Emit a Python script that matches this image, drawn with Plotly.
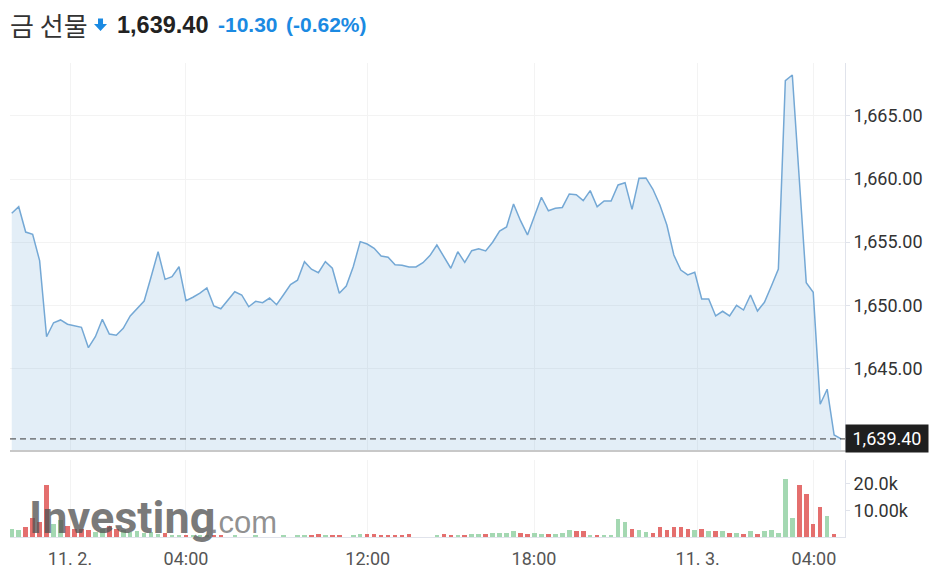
import plotly.graph_objects as go

# ---------------- data ----------------
prices = [
    1657.29, 1657.81, 1655.80, 1655.62, 1653.53, 1647.50, 1648.61, 1648.83, 1648.49, 1648.35,
    1648.25, 1646.63, 1647.50, 1648.88, 1647.72, 1647.62, 1648.17, 1649.15, 1649.76, 1650.33,
    1652.26, 1654.24, 1652.05, 1652.26, 1653.05, 1650.36, 1650.63, 1650.95, 1651.37, 1649.94,
    1649.72, 1650.36, 1651.07, 1650.81, 1649.88, 1650.31, 1650.20, 1650.57, 1650.04, 1650.83,
    1651.64, 1651.98, 1653.45, 1652.85, 1652.58, 1653.45, 1652.93, 1650.95, 1651.52, 1653.05,
    1655.04, 1654.85, 1654.51, 1653.90, 1653.80, 1653.21, 1653.16, 1653.03, 1653.03, 1653.37,
    1653.93, 1654.77, 1653.85, 1652.93, 1654.24, 1653.40, 1654.32, 1654.48, 1654.30, 1654.99,
    1655.88, 1656.20, 1658.02, 1656.70, 1655.57, 1657.07, 1658.56, 1657.49, 1657.68, 1657.75,
    1658.82, 1658.76, 1658.29, 1659.08, 1657.81, 1658.26, 1658.26, 1659.53, 1659.71, 1657.60,
    1660.06, 1660.09, 1659.19, 1657.94, 1656.36, 1653.98, 1652.79, 1652.40, 1652.61, 1650.49,
    1650.49, 1649.15, 1649.52, 1649.15, 1649.99, 1649.62, 1650.81, 1649.54, 1650.23, 1651.52,
    1652.87, 1667.80, 1668.25, 1660.01, 1651.79, 1651.02, 1642.15, 1643.34, 1639.71, 1639.40,
]
volumes = [
    3000, 2625, 3750, 7125, 5500, 19625, 5000, 6500, 4250, 3000,
    3000, 2625, 1750, 3000, 4250, 3000, 2750, 1750, 2125, 1500,
    1750, 1250, 1500, 875, 500, 625, 500, 500, 500, 500,
    500, 0, 500, 0, 0, 375, 0, 0, 0, 500,
    0, 875, 500, 500, 1000, 500, 500, 500, 0, 500,
    1000, 1000, 1000, 500, 500, 500, 500, 1000, 0, 0,
    0, 500, 1000, 500, 500, 500, 1000, 1000, 1000, 1625,
    1625, 1625, 2125, 1625, 1000, 1625, 1000, 1000, 1000, 1500,
    2625, 2125, 2125, 875, 875, 375, 875, 6625, 5500, 3125,
    2625, 2000, 1500, 3750, 2625, 3750, 3750, 3125, 2625, 3125,
    2125, 2125, 2125, 1500, 1500, 1000, 2125, 1000, 2125, 2625,
    1625, 21750, 7125, 19625, 16250, 5000, 11125, 7750, 1000, 0,
]
prev_close = 1649.70
time_labels = ["11. 2.", "04:00", "12:00", "18:00", "11. 3.", "04:00"]
time_label_pos = [8.36, 25.0, 51.08, 74.94, 98.42, 115.1]
price_ticks = [1645, 1650, 1655, 1660, 1665]
vol_ticks = [10000, 20000]
vol_tick_labels = ["10.00k", "20.0k"]
title_text = "금 선물"

# ---------------- derived ----------------
n = len(prices)
idx = list(range(n))
UP, DOWN = "#a4d8b2", "#e46f6e"
bar_colors = [UP] + [UP if prices[i] >= prices[i - 1] else DOWN for i in range(1, n)]
last = prices[-1]
change = last - prev_close
pct = change / prev_close * 100
BLUE = "#1b8ae2"

fig = go.Figure()
fig.add_trace(go.Scatter(
    x=idx, y=prices, mode="lines",
    line=dict(color="#74a8d5", width=1.5),
    fill="tozeroy", fillcolor="rgba(116,168,213,0.2)",
    xaxis="x", yaxis="y", hoverinfo="skip",
))
fig.add_trace(go.Bar(
    x=idx, y=volumes, marker=dict(color=bar_colors, line=dict(width=0)),
    width=0.65, xaxis="x2", yaxis="y2", hoverinfo="skip",
))

AX_FONT = dict(family="Roboto, Arial, sans-serif", size=18, color="#333333")
GRID = "#f3f3f3"
EDGE = "#e0e3eb"

fig.update_layout(
    width=934, height=579,
    margin=dict(l=10, r=89, t=63, b=42),
    paper_bgcolor="white", plot_bgcolor="white",
    showlegend=False, bargap=0,
    xaxis=dict(domain=[0, 1], anchor="y", range=[-0.25, 119.56],
               tickvals=time_label_pos, showticklabels=False,
               showgrid=True, gridcolor=GRID, zeroline=False,
               showline=True, linecolor="#c8c8c8", linewidth=2, ticks=""),
    yaxis=dict(domain=[0.1835, 1], anchor="x", side="right",
               range=[1638.52, 1669.2], tickvals=price_ticks, tickformat=",.2f",
               showgrid=True, gridcolor=GRID, zeroline=False,
               showline=True, linecolor=EDGE, linewidth=1,
               ticks="outside", ticklen=4, tickcolor=EDGE,
               tickfont=AX_FONT, automargin=False),
    xaxis2=dict(domain=[0, 1], anchor="y2", matches="x",
                tickvals=time_label_pos, ticktext=time_labels,
                showgrid=True, gridcolor=GRID, zeroline=False,
                showline=True, linecolor=EDGE, linewidth=1, ticks="",
                ticklabelstandoff=5,
                tickfont=dict(family="Roboto, Arial, sans-serif", size=18, color="#555555"),
                automargin=False),
    yaxis2=dict(domain=[0, 0.1624], anchor="x2", side="right",
                range=[0, 28840], tickvals=vol_ticks, ticktext=vol_tick_labels,
                showgrid=False, zeroline=False,
                showline=True, linecolor=EDGE, linewidth=1,
                ticks="outside", ticklen=4, tickcolor=EDGE,
                tickfont=AX_FONT, automargin=False),
)

# last price dashed line
fig.add_shape(type="line", xref="paper", x0=0, x1=1, yref="y", y0=last, y1=last,
              line=dict(color="#3a3a3a", width=1, dash="6px,4px"))
# down-arrow icon in the header
fig.add_shape(type="path", xref="paper", yref="paper",
              path="M 0.1054,1.0939 L 0.1114,1.0939 L 0.1114,1.0823 L 0.1162,1.0823 "
                   "L 0.1084,1.0675 L 0.1006,1.0823 L 0.1054,1.0823 Z",
              fillcolor=BLUE, line=dict(width=0))

HY = 1.0802
annotations = [
    # last price badge
    dict(xref="paper", x=1.0, xanchor="left", yref="y", y=last, yanchor="middle",
         text=f"{last:,.2f}", showarrow=False, bgcolor="#1f1f1f", borderpad=3, width=76,
         font=dict(family="Roboto, Arial, sans-serif", size=18, color="white")),
    # header
    dict(xref="paper", x=-0.0015, xanchor="left", yref="paper", y=HY, yanchor="middle",
         text=title_text, showarrow=False, borderpad=0,
         font=dict(family="Noto Sans CJK KR", size=26, color="#333333")),
    dict(xref="paper", x=0.126, xanchor="left", yref="paper", y=HY, yanchor="middle",
         text=f"<b>{last:,.2f}</b>", showarrow=False,
         font=dict(family="Liberation Sans, Arial", size=23.5, color="#222222")),
    dict(xref="paper", x=0.2467, xanchor="left", yref="paper", y=HY, yanchor="middle",
         text=f"<b>{change:.2f}</b>", showarrow=False,
         font=dict(family="Liberation Sans, Arial", size=21, color=BLUE)),
    dict(xref="paper", x=0.3285, xanchor="left", yref="paper", y=HY, yanchor="middle",
         text=f"<b>({pct:.2f}%)</b>", showarrow=False,
         font=dict(family="Liberation Sans, Arial", size=21, color=BLUE)),
    # watermark
    dict(xref="paper", x=0.0198, xanchor="left", yref="paper", y=-0.020, yanchor="bottom",
         text="<b>Investing</b>", showarrow=False,
         font=dict(family="Roboto", size=45, color="rgba(85,85,85,0.78)")),
    dict(xref="paper", x=0.237, xanchor="left", yref="paper", y=-0.0099, yanchor="bottom",
         text=".com", showarrow=False,
         font=dict(family="Liberation Sans, Arial", size=31, color="rgba(115,115,115,0.78)")),
]
fig.update_layout(annotations=annotations)

fig.write_html("out.html", config={"displayModeBar": False},
               post_script="document.body.style.margin='0px';")
